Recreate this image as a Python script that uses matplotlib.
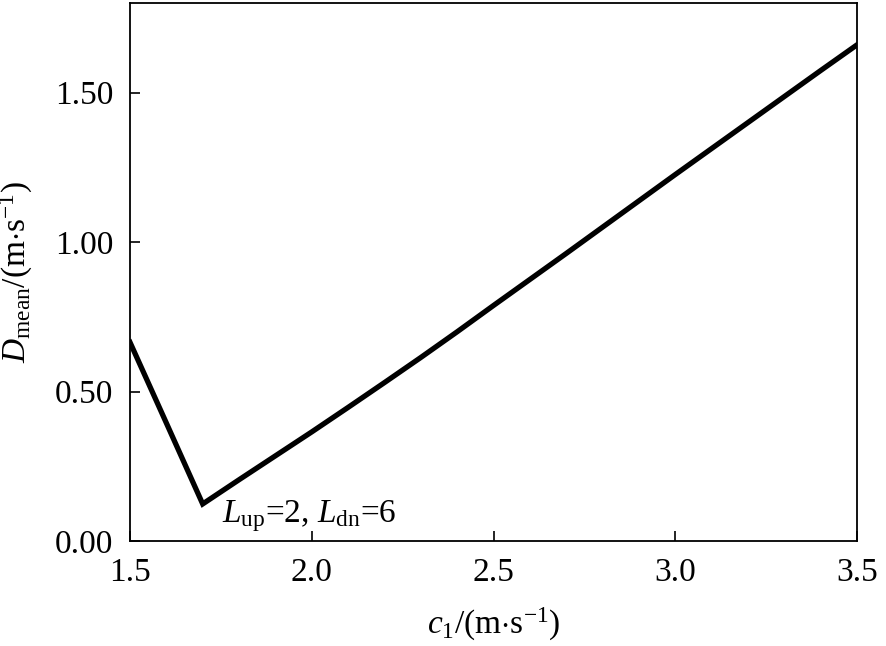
import numpy as np
import matplotlib
matplotlib.use("Agg")
import matplotlib.pyplot as plt
from matplotlib.ticker import FormatStrFormatter

plt.rcParams['font.family'] = ['Liberation Serif', 'DejaVu Serif']
plt.rcParams['mathtext.fontset'] = 'custom'
plt.rcParams['mathtext.rm'] = 'Liberation Serif'
plt.rcParams['mathtext.it'] = 'Liberation Serif:italic'

# c1 values (m/s) and mean deviation D_mean (m/s)
c1 = [1.5, 1.6, 1.7, 1.8, 1.9, 2.0, 2.1, 2.2, 2.3, 2.4, 2.5,
      2.6, 2.7, 2.8, 2.9, 3.0, 3.1, 3.2, 3.3, 3.4, 3.5]
d_mean = [0.665, 0.395, 0.124, 0.205, 0.285, 0.365, 0.447, 0.530, 0.614, 0.700, 0.788,
          0.875, 0.962, 1.050, 1.138, 1.226, 1.313, 1.400, 1.487, 1.574, 1.660]

xticks = [1.5, 2.0, 2.5, 3.0, 3.5]
yticks = [0.0, 0.5, 1.0, 1.5]

fig = plt.figure(figsize=(8.86, 6.46), dpi=100)
ax = fig.add_axes([0.1467, 0.1625, 0.8206, 0.8329])

ax.plot(c1, d_mean, color='black', lw=3.8, solid_joinstyle='miter')

ax.set_xlim(1.5, 3.5)
ax.set_ylim(0, 1.80)
ax.set_xticks(xticks)
ax.set_yticks(yticks)
ax.xaxis.set_major_formatter(FormatStrFormatter('%.1f'))
ax.yaxis.set_major_formatter(FormatStrFormatter('%.2f'))
ax.tick_params(direction='in', length=7, width=1.2, labelsize=24,
               top=False, right=False)
ax.tick_params(axis='x', pad=12)
ax.tick_params(axis='y', pad=12)
for s in ax.spines.values():
    s.set_linewidth(1.3)

ax.set_xlabel(r'$c_1$/(m$\cdot$s$^{-1}$)', fontsize=24, labelpad=13)
ax.set_ylabel(r'$D_{\rm mean}$/(m$\cdot$s$^{-1}$)', fontsize=24, labelpad=14)

ax.text(1.753, 0.064, r'$L_{\rm up}$=2, $L_{\rm dn}$=6', fontsize=24,
        ha='left', va='baseline')

fig.savefig('out.png', dpi=100)
